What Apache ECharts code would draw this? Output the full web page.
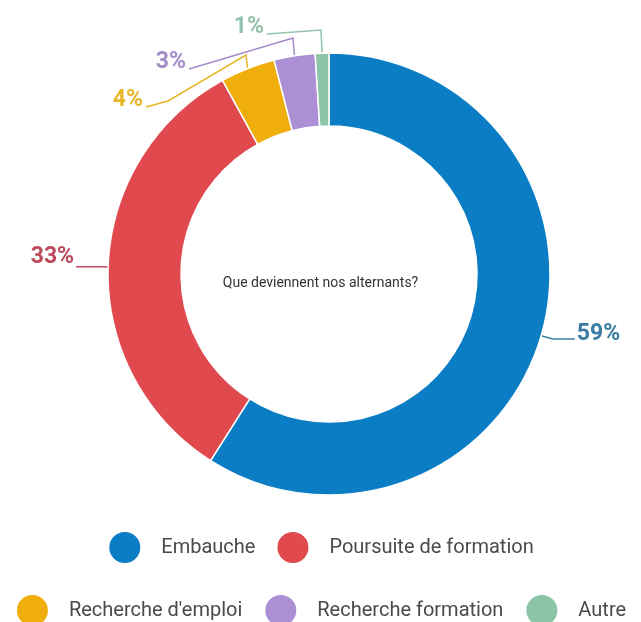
<!DOCTYPE html>
<html><head><meta charset="utf-8">
<script src="https://cdn.jsdelivr.net/npm/echarts@6/dist/echarts.min.js"></script>
<style>html,body{margin:0;padding:0;background:#fff}#c{width:641px;height:622px}</style>
</head><body><div id="c"></div>
<script>
const categories = ["Embauche", "Poursuite de formation", "Recherche d'emploi", "Recherche formation", "Autre"];
const values = [59, 33, 4, 3, 1];
const sliceColors = ['#0B7DC4', '#E04A4F', '#F0AE0C', '#AC8FD4', '#8CC4A7'];
const labelColors = ['#3B7DA3', '#BC4A5C', '#E8B52A', '#A48CC8', '#94C2AC'];
const centerTitle = 'Que deviennent nos alternants?';

// label placement (style): right-middle anchor of the small-slice labels and their leader bends
const labelPlacement = {
  2: {x: 143, y: 100, bends: [[246, 55], [168, 101]]},
  3: {x: 186, y: 62, bends: [[293, 38]]},
  4: {x: 264, y: 27, bends: [[321, 30]]}
};
const labelShift = {0: -5, 1: -9};

const chart = echarts.init(document.getElementById('c'));
const font = 'Roboto, "Liberation Sans", sans-serif';
chart.setOption({
  animation: false,
  title: {text: centerTitle, left: 'center', top: 271, textStyle: {fontFamily: font, fontSize: 14, fontWeight: 'normal', color: '#333'}},
  legend: [
    {data: categories.slice(0, 2), top: 525, left: 'center', icon: 'circle', itemWidth: 33, itemHeight: 33, itemGap: 20,
     textStyle: {fontFamily: font, fontSize: 20, color: '#4a4a4a', padding: [0, 0, 0, 15]}},
    {data: categories.slice(2), top: 588, left: 'center', icon: 'circle', itemWidth: 33, itemHeight: 33, itemGap: 21,
     textStyle: {fontFamily: font, fontSize: 20, color: '#4a4a4a', padding: [0, 0, 0, 15]}}
  ],
  series: [{
    type: 'pie',
    center: [329, 274],
    radius: [148, 221],
    startAngle: 90,
    clockwise: true,
    itemStyle: {borderColor: '#fff', borderWidth: 1.5},
    label: {
      show: true, position: 'outside', formatter: '{c}%',
      fontFamily: font, fontSize: 23, fontWeight: 'bold', distanceToLabelLine: 2
    },
    labelLine: {show: true, length: 12, length2: 22, lineStyle: {width: 1.5}},
    labelLayout: function (params) {
      const i = params.dataIndex;
      const pts = params.labelLinePoints;
      if (labelPlacement[i] && pts) {
        const p = labelPlacement[i];
        return {
          x: p.x, y: p.y, align: 'right', verticalAlign: 'middle',
          labelLinePoints: [pts[0]].concat(p.bends, [[p.x + 3, p.y + 7]])
        };
      }
      if (labelShift[i] != null && pts) {
        return {dy: labelShift[i], labelLinePoints: pts};
      }
      return {};
    },
    data: categories.map((n, i) => ({
      name: n, value: values[i],
      itemStyle: {color: sliceColors[i]},
      label: {color: labelColors[i]},
      labelLine: {lineStyle: {color: labelColors[i]}}
    }))
  }]
});
</script></body></html>
